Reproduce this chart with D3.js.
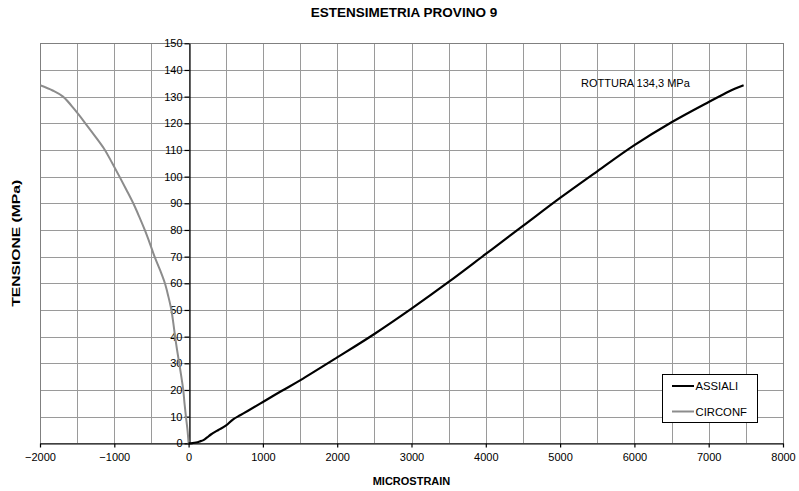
<!DOCTYPE html>
<html><head><meta charset="utf-8">
<script src="https://cdn.jsdelivr.net/npm/d3@7"></script>
<style>body{margin:0;background:#fff}svg{display:block;font-family:"Liberation Sans",Arial,sans-serif}</style>
</head><body><div id="chart"></div>
<script>
const title = "ESTENSIMETRIA PROVINO 9";
const xTitle = "MICROSTRAIN";
const yTitle = "TENSIONE (MPa)";
const annotation = "ROTTURA 134,3 MPa";
const xTicks = [-2000,-1000,0,1000,2000,3000,4000,5000,6000,7000,8000];
const yTicks = [0,10,20,30,40,50,60,70,80,90,100,110,120,130,140,150];
const assialiStrain = [0,50,100,150,200,250,300,400,500,600,700,800,1000,1250,1500,2000,2500,3000,3500,4000,4500,5000,5500,6000,6500,7000,7200,7350,7470];
const assialiStress = [0,0.1,0.3,0.7,1.2,2.2,3.3,5,6.6,9,10.6,12.2,15.5,19.6,23.6,32.2,41,50.5,60.5,71,81.5,92,102,111.8,120.4,128,130.9,133,134.3];
const circStrain = [0,-15,-36,-55,-72,-98,-126,-155,-182,-205,-232,-272,-319,-385,-458,-522,-590,-665,-745,-836,-930,-1027,-1127,-1255,-1390,-1530,-1690,-1830,-2000];
const circStress = [0,5,10,15,20,25,30,35,40,45,50,55,60,65,70,75,80,85,90,95,100,105,110,115,120,125,130,132.3,134.3];
const seriesNames = ["ASSIALI","CIRCONF"];
const seriesColors = ["#000000","#8c8c8c"];

const W=799,H=491;
const m={l:40,r:16,t:43.3,b:47.7};
const svg=d3.select("#chart").append("svg").attr("width",W).attr("height",H);
const x=d3.scaleLinear().domain([-2000,8000]).range([m.l,W-m.r]);
const y=d3.scaleLinear().domain([0,150]).range([H-m.b,m.t]);

// grid
const g=svg.append("g");
g.selectAll("line.v").data(d3.range(-2000,8001,500)).join("line")
 .attr("x1",d=>Math.round(x(d))+0.5).attr("x2",d=>Math.round(x(d))+0.5)
 .attr("y1",y(0)).attr("y2",y(150)).attr("stroke","#9a9a9a").attr("stroke-width",1);
g.selectAll("line.h").data(yTicks).join("line")
 .attr("x1",x(-2000)).attr("x2",x(8000))
 .attr("y1",d=>Math.round(y(d))+0.5).attr("y2",d=>Math.round(y(d))+0.5).attr("stroke","#9a9a9a").attr("stroke-width",1);
svg.append("rect").attr("x",Math.round(x(-2000))+0.5).attr("y",Math.round(y(150))+0.5)
 .attr("width",Math.round(x(8000))-Math.round(x(-2000))).attr("height",Math.round(y(0))-Math.round(y(150)))
 .attr("fill","none").attr("stroke","#808080");

// axes through zero
const xAxis=d3.axisBottom(x).tickValues(xTicks).tickSize(4).tickSizeOuter(0).tickPadding(6).tickFormat(d3.format("d"));
const xg=svg.append("g").attr("transform",`translate(0,${Math.round(y(0))+0.5})`).call(xAxis);
const yAxis=d3.axisLeft(y).tickValues(yTicks).tickSize(5).tickSizeOuter(0).tickPadding(2).tickFormat(d3.format("d"));
const yg=svg.append("g").attr("transform",`translate(${Math.round(x(0))+0.5},0)`).call(yAxis);
[xg,yg].forEach(a=>{a.selectAll("path,line").attr("stroke","#000").attr("stroke-width",1.2);
 a.selectAll("text").attr("font-size",11).attr("fill","#000").attr("font-family","Liberation Sans, Arial, sans-serif");});
xg.selectAll(".tick text").attr("dy","0.71em");

// series
const line=d3.line().curve(d3.curveCatmullRom.alpha(0.5)).x(d=>x(d[0])).y(d=>y(d[1]));
svg.append("clipPath").attr("id","c").append("rect").attr("x",x(-2000)).attr("y",y(150)).attr("width",x(8000)-x(-2000)).attr("height",y(0)-y(150)+2);
svg.append("path").datum(circStrain.map((v,i)=>[v,circStress[i]])).attr("d",line)
 .attr("fill","none").attr("stroke",seriesColors[1]).attr("stroke-width",2).attr("clip-path","url(#c)");
svg.append("path").datum(assialiStrain.map((v,i)=>[v,assialiStress[i]])).attr("d",line)
 .attr("fill","none").attr("stroke",seriesColors[0]).attr("stroke-width",2.2).attr("clip-path","url(#c)");

// titles
svg.append("text").attr("x",404).attr("y",17).attr("text-anchor","middle").attr("font-weight","bold").attr("font-size",13.5).text(title);
svg.append("text").attr("x",(x(-2000)+x(8000))/2).attr("y",485).attr("text-anchor","middle").attr("font-weight","bold").attr("font-size",11).text(xTitle);
svg.append("text").attr("transform",`translate(20,${(y(0)+y(150))/2}) rotate(-90)`).attr("text-anchor","middle").attr("font-weight","bold").attr("font-size",11)
 .attr("textLength",127).attr("lengthAdjust","spacingAndGlyphs").text(yTitle);
svg.append("text").attr("x",581).attr("y",87).attr("font-size",11).text(annotation);

// legend
const lg=svg.append("g");
lg.append("rect").attr("x",662.5).attr("y",374.5).attr("width",95).attr("height",48).attr("fill","#fff").attr("stroke","#000");
seriesNames.forEach((n,i)=>{
 const yy=386+i*25.5;
 lg.append("line").attr("x1",672).attr("x2",694).attr("y1",yy).attr("y2",yy).attr("stroke",seriesColors[i]).attr("stroke-width",2);
 lg.append("text").attr("x",695.5).attr("y",yy+4).attr("font-size",11.3).text(n);
});
</script></body></html>
